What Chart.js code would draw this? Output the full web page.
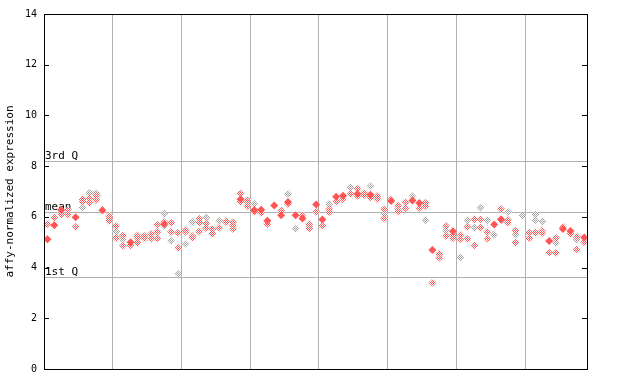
<!DOCTYPE html>
<html>
<head>
<meta charset="utf-8">
<script src="https://cdn.jsdelivr.net/npm/chart.js@4/dist/chart.umd.min.js"></script>
<style>
  html, body { margin: 0; padding: 0; background: #fff; }
  canvas { display: block; }
</style>
</head>
<body>
<canvas id="chart" width="640" height="384"></canvas>
<script>
// sample positions (group units) and values
const filledX = [0.05, 0.15, 0.25, 0.46, 0.85, 1.26, 1.75, 2.86, 3.06, 3.16, 3.25, 3.35, 3.45, 3.55, 3.66, 3.76,
    3.96, 4.05, 4.25, 4.35, 4.56, 4.75, 5.05, 5.36, 5.46, 5.65, 5.95, 6.55, 6.65, 7.35, 7.55, 7.66, 7.86];
const filledY = [5.12, 5.67, 6.27, 5.98, 6.26, 5.00, 5.72, 6.69, 6.27, 6.28, 5.85, 6.45, 6.06, 6.59, 6.06, 5.94,
    6.49, 5.90, 6.79, 6.83, 6.90, 6.87, 6.63, 6.65, 6.55, 4.69, 5.43, 5.70, 5.91, 5.05, 5.52, 5.44, 5.19];

const openRedX = [0.05, 0.15, 0.25, 0.35, 0.35, 0.46, 0.56, 0.56, 0.66, 0.66, 0.76, 0.76,
    0.95, 0.95, 0.95, 1.05, 1.05, 1.15, 1.15, 1.26, 1.36, 1.36, 1.36, 1.46, 1.46, 1.56, 1.56,
    1.65, 1.65, 1.65, 1.75, 1.85, 1.85, 1.95, 1.95, 2.06, 2.06, 2.16, 2.16,
    2.26, 2.26, 2.26, 2.36, 2.36, 2.45, 2.45, 2.55, 2.65, 2.65, 2.75, 2.75, 2.75, 2.86, 2.86,
    2.96, 2.96, 3.06, 3.16, 3.25, 3.45, 3.55, 3.76, 3.86, 3.86, 3.96, 4.05,
    4.15, 4.15, 4.25, 4.35, 4.46, 4.56, 4.56, 4.66, 4.66, 4.75, 4.85, 4.85,
    4.95, 4.95, 5.05, 5.15, 5.15, 5.26, 5.26, 5.46, 5.55, 5.55, 5.65, 5.75, 5.75,
    5.85, 5.85, 5.95, 5.95, 6.06, 6.06, 6.16, 6.16, 6.26, 6.26, 6.35, 6.35,
    6.45, 6.45, 6.65, 6.65, 6.75, 6.75, 6.86, 6.86, 7.06, 7.06,
    7.15, 7.25, 7.25, 7.35, 7.45, 7.45, 7.55, 7.66, 7.75, 7.75, 7.86];
const openRedY = [5.72, 5.96, 6.09, 6.27, 6.09, 5.60, 6.69, 6.61, 6.74, 6.56, 6.86, 6.66,
    6.04, 5.93, 5.84, 5.63, 5.17, 5.26, 4.86, 4.87, 5.26, 5.18, 4.98, 5.24, 5.16, 5.33, 5.16,
    5.68, 5.41, 5.16, 5.79, 5.77, 5.41, 5.37, 4.78, 5.49, 5.41, 5.24, 5.17,
    5.92, 5.79, 5.42, 5.75, 5.55, 5.52, 5.33, 5.57, 5.84, 5.79, 5.79, 5.66, 5.52, 6.94, 6.61,
    6.66, 6.43, 6.19, 6.15, 5.72, 6.25, 6.51, 6.06, 5.72, 5.54, 6.19, 5.64,
    6.30, 6.19, 6.61, 6.69, 6.90, 7.10, 6.83, 6.94, 6.86, 6.77, 6.83, 6.69,
    6.31, 5.94, 6.68, 6.44, 6.21, 6.59, 6.35, 6.35, 6.55, 6.43, 3.40, 4.54, 4.39,
    5.64, 5.25, 5.29, 5.16, 5.29, 5.13, 5.60, 5.13, 5.91, 4.86, 5.91, 5.57,
    5.41, 5.13, 6.31, 5.87, 5.88, 5.77, 5.45, 4.98, 5.37, 5.17,
    5.37, 5.45, 5.37, 4.58, 5.17, 4.58, 5.60, 5.33, 5.22, 4.70, 5.00];

const openGrayX = [0.56, 0.66, 0.76, 1.05, 1.15, 1.75, 1.75, 1.85, 1.95, 2.06, 2.16, 2.36, 2.55,
    2.96, 3.06, 3.55, 3.66, 3.86, 4.15, 4.46, 4.75, 4.85, 4.95, 5.15, 5.36, 5.55, 5.85, 6.06,
    6.16, 6.26, 6.35, 6.45, 6.55, 6.75, 6.86, 6.96, 7.15, 7.15, 7.25, 7.45, 7.75];
const openGrayY = [6.36, 6.94, 6.94, 5.41, 5.11, 6.12, 5.63, 5.05, 3.76, 4.94, 5.79, 5.98, 5.84,
    6.56, 6.51, 6.90, 5.52, 5.64, 6.51, 7.16, 7.21, 6.77, 6.11, 6.31, 6.81, 5.88, 5.45, 4.39,
    5.88, 5.57, 6.35, 5.88, 5.29, 6.19, 5.29, 6.04, 6.09, 5.88, 5.82, 4.98, 5.09];

const quartileValues = [8.2, 6.2, 3.62];
const quartileLabels = ['3rd Q', 'mean', '1st Q'];
const yTicks = [0, 2, 4, 6, 8, 10, 12, 14];

const RED = '#ff5555';
const GRAY = '#a0a0a0';
const GRID = '#b0b0b0';
const MONO = '"DejaVu Sans Mono", monospace';

toPoints = (xs, ys) => xs.map((x, i) => ({x: x, y: ys[i]}));

// checkered fill used by the open diamonds
makeChecker = (color) => {
    let c = document.createElement('canvas');
    c.width = 2;
    c.height = 2;
    let g = c.getContext('2d');
    g.fillStyle = '#fff';
    g.fillRect(0, 0, 2, 2);
    g.fillStyle = color;
    g.fillRect(0, 0, 1, 1);
    g.fillRect(1, 1, 1, 1);
    return g.createPattern(c, 'repeat');
}

const extras = {
    id: 'extras',
    beforeDatasetsDraw: (chart) => {
        let ctx = chart.ctx;
        let area = chart.chartArea;
        let y = chart.scales.y;
        ctx.save();
        ctx.strokeStyle = GRID;
        ctx.lineWidth = 1;
        ctx.fillStyle = '#000';
        ctx.font = '11px ' + MONO;
        ctx.textBaseline = 'bottom';
        ctx.textAlign = 'left';
        quartileValues.forEach((v, i) => {
            let py = Math.round(y.getPixelForValue(v)) + 0.5;
            ctx.beginPath();
            ctx.moveTo(area.left, py);
            ctx.lineTo(area.right, py);
            ctx.stroke();
            ctx.fillText(quartileLabels[i], area.left + 1, py);
        });
        ctx.restore();
    },
    afterDraw: (chart) => {
        let ctx = chart.ctx;
        let area = chart.chartArea;
        let y = chart.scales.y;
        ctx.save();
        ctx.strokeStyle = '#000';
        ctx.lineWidth = 1;
        ctx.strokeRect(area.left + 0.5, area.top + 0.5, area.right - area.left, area.bottom - area.top);
        ctx.beginPath();
        yTicks.forEach(v => {
            let py = Math.round(y.getPixelForValue(v)) + 0.5;
            ctx.moveTo(area.left, py);
            ctx.lineTo(area.left + 5, py);
            ctx.moveTo(area.right - 5, py);
            ctx.lineTo(area.right, py);
        });
        ctx.stroke();
        ctx.restore();
    }
};

diamondSet = (label, points, fill, radius) => ({
    label: label,
    data: points,
    pointStyle: 'rectRot',
    pointRadius: radius,
    pointBorderWidth: 0,
    pointBackgroundColor: fill,
    pointBorderColor: fill
});

new Chart(document.getElementById('chart').getContext('2d'), {
    type: 'scatter',
    data: {
        datasets: [
            diamondSet('filled', toPoints(filledX, filledY), RED, 4),
            diamondSet('open', toPoints(openRedX, openRedY), makeChecker(RED), 4),
            diamondSet('open gray', toPoints(openGrayX, openGrayY), makeChecker(GRAY), 4)
        ]
    },
    options: {
        responsive: false,
        animation: false,
        layout: {
            padding: {top: 14, right: 53, left: 0, bottom: 0}
        },
        plugins: {
            legend: {display: false},
            tooltip: {enabled: false}
        },
        scales: {
            x: {
                type: 'linear',
                min: 0,
                max: 7.9,
                afterFit: (scale) => { scale.height = 15; },
                ticks: {display: false, stepSize: 1},
                grid: {color: GRID, drawTicks: false, lineWidth: 1},
                border: {display: false}
            },
            y: {
                min: 0,
                max: 14,
                afterFit: (scale) => { scale.width = 44; },
                afterBuildTicks: (scale) => { scale.ticks = yTicks.map(v => ({value: v})); },
                ticks: {
                    color: '#000',
                    padding: 7,
                    font: {family: MONO, size: 10}
                },
                grid: {display: false, drawTicks: false},
                border: {display: false},
                title: {
                    display: true,
                    text: 'affy-normalized expression',
                    color: '#000',
                    font: {family: MONO, size: 11},
                    padding: {top: 4, bottom: 0}
                }
            }
        }
    },
    plugins: [extras]
});
</script>
</body>
</html>
